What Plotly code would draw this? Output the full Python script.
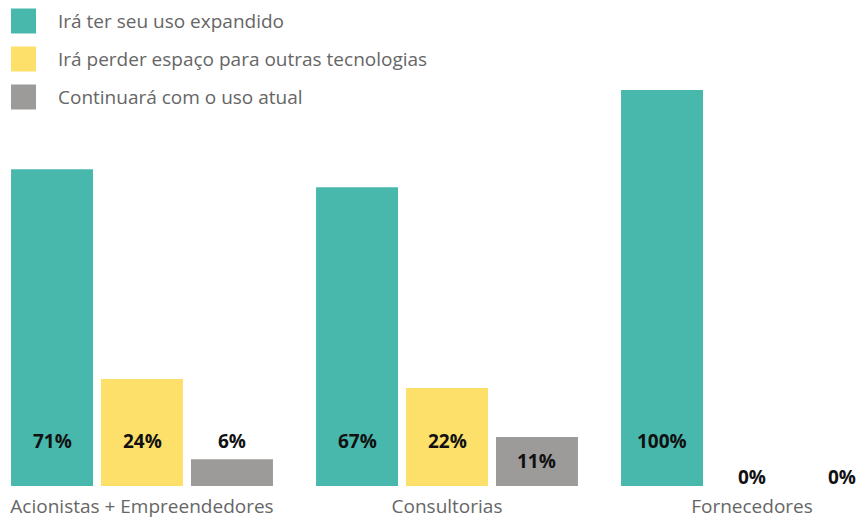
import plotly.graph_objects as go

categories = ["Acionistas + Empreendedores", "Consultorias", "Fornecedores"]
series_names = ["Irá ter seu uso expandido",
                "Irá perder espaço para outras tecnologias",
                "Continuará com o uso atual"]
expandido = [71, 67, 100]
perder = [24, 22, 0]
atual = [6, 11, 0]
colors = ["#48B8AD", "#FDE06A", "#9D9B9A"]

series = [expandido, perder, atual]
FONT = "Open Sans"
BARGAP = 0.115
slot = (1 - BARGAP) / 3

W, H = 860, 517
PT, PB = 90, 486  # plot area top / bottom in pixels

fig = go.Figure()
for i, (name, vals) in enumerate(zip(series_names, series)):
    fig.add_trace(go.Bar(x=categories, y=vals, name=name,
                         marker=dict(color=colors[i], line=dict(width=0)),
                         showlegend=False, hoverinfo="skip"))


def label_y(v):
    if v >= 20:
        return 10
    if v >= 10:
        return v / 2
    return v * 4 / 3 + 2


annotations = []
for i, vals in enumerate(series):
    for j, v in enumerate(vals):
        annotations.append(dict(x=j + (i - 1) * slot, y=label_y(v), xref="x", yref="y",
                                text=f"<b>{v}%</b>", showarrow=False,
                                font=dict(family=FONT, size=19, color="#111111")))


def py(ypx):
    return (PB - ypx) / (PB - PT)


# custom legend
shapes = []
row_y = [21, 59, 97]
for i, name in enumerate(series_names):
    yc = row_y[i]
    shapes.append(dict(type="rect", xref="paper", yref="paper",
                       x0=11 / W, x1=36 / W,
                       y0=py(yc + 12.5), y1=py(yc - 12.5),
                       fillcolor=colors[i], line=dict(width=0), layer="above"))
    annotations.append(dict(x=56 / W, y=py(yc), xref="paper", yref="paper",
                            text=name, showarrow=False, xanchor="left", yanchor="middle",
                            font=dict(family=FONT, size=19, color="#666666")))

fig.update_layout(
    width=W, height=H,
    margin=dict(l=0, r=0, t=PT, b=H - PB, pad=0),
    paper_bgcolor="white", plot_bgcolor="white",
    barmode="group", bargap=BARGAP, bargroupgap=0.089,
    xaxis=dict(range=[-142 / 305, (W - 142) / 305], showgrid=False, zeroline=False,
               showline=False, ticks="", automargin=False,
               tickfont=dict(family=FONT, size=19, color="#666666"),
               ticklabelstandoff=7),
    yaxis=dict(range=[0, (PB - PT) / 4.46], visible=False, showgrid=False, zeroline=False,
               automargin=False),
    shapes=shapes,
    annotations=annotations,
    font=dict(family=FONT),
)

fig.write_html("out.html", config={"displayModeBar": False},
               post_script="document.body.style.margin='0px';")
